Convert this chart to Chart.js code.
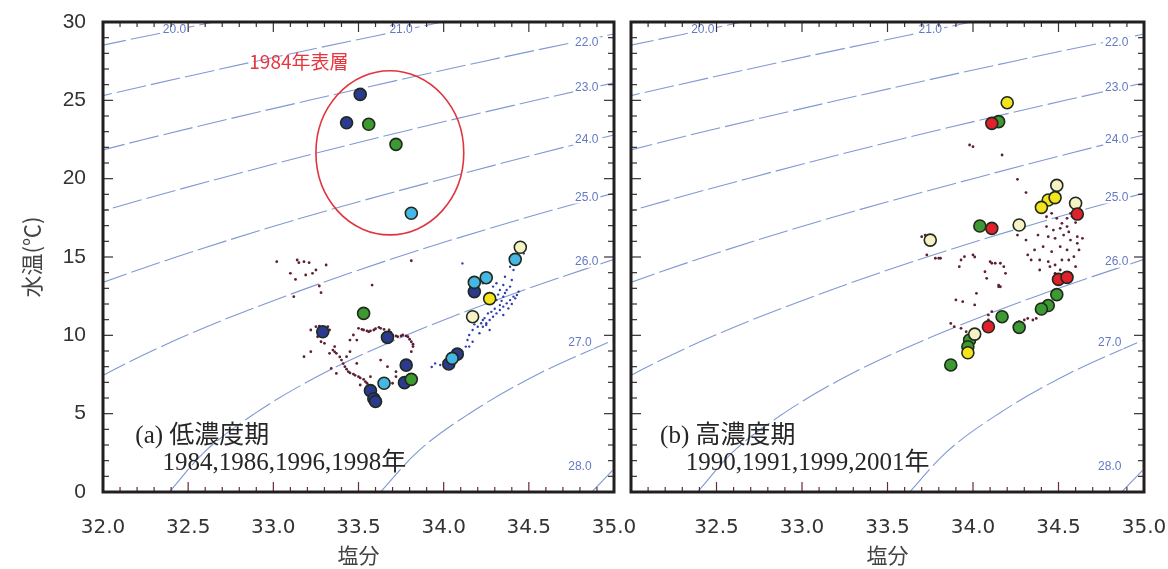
<!DOCTYPE html>
<html lang="ja">
<head>
<meta charset="utf-8">
<title>水温・塩分図</title>
<script src="https://cdn.jsdelivr.net/npm/chart.js@4.4.1/dist/chart.umd.min.js"></script>
<style>
  html, body { margin: 0; padding: 0; background: #fff; }
  body { width: 1168px; height: 569px; position: relative; overflow: hidden; }
  .panel { position: absolute; top: 0; height: 569px; }
  #panel-a { left: 0; width: 640px; }
  #panel-b { left: 620px; width: 548px; }
</style>
</head>
<body>
<div class="panel" id="panel-a"><canvas id="chart-a"></canvas></div>
<div class="panel" id="panel-b"><canvas id="chart-b"></canvas></div>
<script>
// sigma-t lines: salinity where each line crosses these temperatures
const contourTemps = [0, 2.5, 5, 7.5, 10, 12.5, 15, 17.5, 20, 22.5, 25, 27.5, 30];
const sigma20 = [null, null, null, null, null, null, null, null, null, null, 30.55, 31.56, 32.65];
const sigma21 = [null, null, null, null, null, null, null, null, null, 30.92, 31.88, 32.90, 33.99];
const sigma22 = [null, null, null, null, null, null, null, 30.55, 31.36, 32.24, 33.21, 34.24, 35.34];
const sigma23 = [null, null, null, null, null, 30.49, 31.13, 31.86, 32.68, 33.57, 34.54, 35.58, null];
const sigma24 = [null, null, null, 30.73, 31.21, 31.78, 32.43, 33.17, 34.00, 34.89, 35.88, null, null];
const sigma25 = [null, 31.34, 31.62, 32.01, 32.49, 33.07, 33.73, 34.48, 35.31, null, null, null, null];
const sigma26 = [32.39, 32.59, 32.89, 33.28, 33.78, 34.37, 35.04, null, null, null, null, null, null];
const sigma27 = [33.63, 33.84, 34.15, 34.55, 35.06, null, null, null, null, null, null, null, null];
const sigma28 = [34.87, 35.09, null, null, null, null, null, null, null, null, null, null, null];
const contourLevels = ['20.0', '21.0', '22.0', '23.0', '24.0', '25.0', '26.0', '27.0', '28.0'];
const contourSalinity = [sigma20, sigma21, sigma22, sigma23, sigma24, sigma25, sigma26, sigma27, sigma28];

// (a) low concentration years  [salinity, temperature]
const lowNavy = [[33.51, 25.38], [33.43, 23.57], [33.29, 10.23], [33.67, 9.87], [33.78, 8.10],
  [33.77, 6.98], [33.57, 6.47], [33.59, 5.95], [33.60, 5.78], [34.03, 8.17], [34.08, 8.80], [34.18, 12.79]];
const lowGreen = [[33.56, 23.47], [33.72, 22.19], [33.53, 11.40], [33.81, 7.19]];
const lowCyan = [[33.81, 17.79], [33.65, 6.94], [34.05, 8.53], [34.18, 13.38], [34.25, 13.68], [34.42, 14.85]];
const lowYellow = [[34.27, 12.34]];
const lowCream = [[34.17, 11.19], [34.45, 15.62]];
const lowDotsRed = [
  [33.02, 14.70], [33.14, 14.81], [33.15, 14.64], [33.18, 14.70], [33.21, 14.64], [33.10, 13.96], [33.13, 13.57],
  [33.19, 13.85], [33.23, 13.96], [33.25, 14.17], [33.27, 13.15], [33.28, 12.72], [33.31, 14.49], [33.12, 12.47],
  [33.58, 13.21], [33.81, 14.76], [33.25, 10.55], [33.27, 10.59], [33.32, 10.55], [33.33, 10.34], [33.26, 9.91],
  [33.28, 9.59], [33.22, 10.34], [33.30, 9.49], [33.18, 8.64], [33.50, 10.45], [33.52, 10.38], [33.53, 10.34],
  [33.55, 10.28], [33.56, 10.23], [33.57, 10.28], [33.59, 10.34], [33.60, 10.42], [33.62, 10.51], [33.63, 10.45],
  [33.65, 10.38], [33.68, 10.34], [33.69, 10.18], [33.70, 10.02], [33.72, 9.96], [33.73, 9.91], [33.75, 9.96],
  [33.76, 10.02], [33.78, 9.96], [33.79, 9.91], [33.80, 9.75], [33.81, 9.59], [33.82, 9.43], [33.82, 9.28],
  [33.81, 8.96], [33.47, 10.02], [33.45, 9.70], [33.49, 9.70], [33.35, 9.06], [33.36, 8.95], [33.37, 8.85],
  [33.39, 8.62], [33.40, 8.42], [33.41, 8.20], [33.42, 8.00], [33.43, 7.84], [33.44, 7.68], [33.45, 7.60],
  [33.47, 7.53], [33.48, 7.45], [33.50, 7.36], [33.51, 7.28], [33.53, 7.19], [33.54, 7.05], [33.55, 6.94],
  [33.56, 6.82], [33.57, 6.72], [33.59, 6.62], [33.51, 6.83], [33.33, 8.85], [33.36, 9.28], [33.43, 8.64],
  [33.37, 7.57], [33.34, 7.89], [33.49, 8.21], [33.63, 8.42], [33.67, 8.00], [33.72, 7.68], [33.72, 7.36],
  [33.70, 6.94], [33.57, 7.36], [33.22, 8.96], [33.45, 8.96]];
const lowDotsBlue = [
  [33.93, 7.98], [33.95, 8.21], [33.98, 8.11], [34.00, 8.32], [34.11, 8.96], [34.13, 9.28], [34.14, 9.70],
  [34.15, 10.02], [34.17, 10.34], [34.20, 10.55], [34.22, 10.77], [34.23, 10.98], [34.25, 10.66], [34.27, 10.98],
  [34.29, 11.19], [34.31, 11.40], [34.33, 11.62], [34.35, 11.83], [34.37, 12.04], [34.39, 12.25], [34.41, 12.47],
  [34.43, 12.57], [34.35, 12.47], [34.33, 12.89], [34.37, 12.89], [34.39, 13.11], [34.35, 13.21], [34.31, 13.32],
  [34.29, 13.11], [34.23, 13.32], [34.26, 13.53], [34.36, 13.74], [34.39, 14.38], [34.41, 14.17], [34.11, 14.59],
  [34.25, 10.77], [34.27, 10.34], [34.23, 10.55], [34.19, 10.98], [34.21, 10.13], [34.15, 9.28], [34.17, 9.59],
  [34.08, 8.42], [34.04, 8.00], [34.27, 12.04], [34.31, 12.25], [34.33, 11.93], [34.35, 11.30], [34.38, 11.72],
  [34.42, 12.36], [34.44, 12.79], [34.40, 13.53], [34.44, 14.59], [34.47, 15.23], [34.30, 11.70], [34.32, 12.60],
  [34.28, 11.50], [34.26, 11.40], [34.34, 12.20], [34.36, 12.70], [34.40, 12.00], [34.24, 11.10], [34.18, 10.70]];

// (b) high concentration years
const highGreen = [[34.15, 23.64], [34.04, 16.98], [34.49, 12.60], [34.44, 11.90], [34.40, 11.68], [34.17, 11.19],
  [34.27, 10.51], [33.98, 9.70], [33.97, 9.27], [33.87, 8.11]];
const highRed = [[34.11, 23.53], [34.61, 17.74], [34.11, 16.83], [34.50, 13.57], [34.55, 13.70], [34.09, 10.55]];
const highYellow = [[34.20, 24.85], [34.44, 18.64], [34.48, 18.79], [34.40, 18.17], [33.97, 8.89]];
const highCream = [[34.49, 19.57], [34.60, 18.43], [34.27, 17.04], [33.75, 16.08], [34.01, 10.08]];
const highDotsRed = [
  [33.98, 22.15], [34.00, 22.04], [34.17, 21.51], [34.26, 19.96], [34.31, 19.11], [34.41, 18.00], [34.43, 17.57],
  [34.46, 17.79], [34.49, 17.47], [34.52, 17.15], [34.55, 17.47], [34.57, 17.79], [34.51, 16.83], [34.47, 16.72],
  [34.43, 16.94], [34.44, 16.30], [34.48, 16.19], [34.53, 16.40], [34.57, 16.08], [34.61, 15.87], [34.62, 15.45],
  [34.59, 15.02], [34.55, 15.45], [34.51, 15.66], [34.46, 15.34], [34.41, 15.66], [34.36, 15.45], [34.32, 15.13],
  [34.34, 14.81], [34.39, 14.81], [34.44, 14.70], [34.48, 14.49], [34.52, 14.81], [34.56, 14.81], [34.60, 14.38],
  [34.51, 14.17], [34.48, 13.96], [34.45, 14.38], [34.39, 14.17], [34.57, 13.96], [34.61, 16.30], [34.64, 16.19],
  [34.55, 16.94], [34.38, 16.40], [34.31, 16.08], [34.26, 16.40], [34.58, 17.60], [34.60, 17.20], [34.56, 16.60],
  [33.73, 15.13], [33.78, 14.92], [33.81, 14.92], [33.93, 14.81], [33.95, 15.02], [34.00, 15.13], [34.01, 15.00],
  [34.10, 14.70], [34.13, 14.60], [34.16, 14.60], [34.18, 14.38], [34.19, 13.96], [34.16, 13.10], [34.15, 13.21],
  [34.07, 14.06], [34.08, 13.64], [33.92, 14.38], [34.02, 12.68], [33.94, 12.15], [33.90, 12.26], [34.01, 11.94],
  [34.09, 11.30], [34.11, 11.51], [33.87, 10.76], [33.89, 10.55], [33.93, 10.45], [33.96, 10.23], [34.30, 10.98],
  [34.32, 11.08], [34.35, 10.98], [34.37, 11.08], [34.27, 10.87], [34.09, 10.98], [33.95, 9.81], [33.80, 14.92],
  [34.11, 14.60], [34.15, 13.10], [33.72, 16.40], [33.70, 16.30]];

const isHalf = v => Math.abs(v * 2 - Math.round(v * 2)) < 1e-6;
const isFive = v => Math.abs(v / 5 - Math.round(v / 5)) < 1e-6;
const pts = list => list.map(p => ({x: p[0], y: p[1]}));

function contourData(salts) {
  const out = [];
  salts.forEach((s, i) => { if (s !== null) out.push({x: s, y: contourTemps[i]}); });
  return out;
}

function contourSets() {
  return contourSalinity.map(salts => ({
    data: contourData(salts),
    showLine: true,
    pointRadius: 0,
    borderColor: 'rgba(96,126,200,0.8)',
    borderWidth: 1.1,
    borderDash: [30, 5],
    cubicInterpolationMode: 'monotone',
    order: 30
  }));
}

function circles(list, fill, order) {
  return {data: pts(list), pointRadius: 6, pointBorderWidth: 1.6, borderColor: '#1f2a1c',
    backgroundColor: fill, order: order};
}

function dots(list, color, r) {
  return {data: pts(list), pointRadius: r, pointBorderWidth: 0, borderColor: color,
    backgroundColor: color, order: 20};
}

// frame, inward ticks, contour labels and panel texts
const panelDecor = {
  id: 'panelDecor',
  afterDatasetsDraw(chart, args, opts) {
    const {ctx, chartArea: a, scales: {x, y}} = chart;
    ctx.save();

    // contour labels
    ctx.font = '12px "Liberation Sans", Arial, sans-serif';
    ctx.textAlign = 'center';
    ctx.textBaseline = 'middle';
    opts.labelSpots.forEach((p, i) => {
      const px = x.getPixelForValue(p[0]);
      const py = y.getPixelForValue(p[1]);
      const w = ctx.measureText(contourLevels[i]).width;
      ctx.fillStyle = '#fff';
      ctx.fillRect(px - w / 2 - 2, py - 6, w + 4, 12);
      ctx.fillStyle = '#6479c4';
      ctx.fillText(contourLevels[i], px, py);
    });

    // ticks pointing inward
    ctx.lineWidth = 1.2;
    x.ticks.forEach(t => {
      const px = x.getPixelForValue(t.value);
      const len = isHalf(t.value) ? 10 : 5;
      ctx.strokeStyle = '#6b2a38';
      ctx.beginPath(); ctx.moveTo(px, a.bottom); ctx.lineTo(px, a.bottom - len); ctx.stroke();
      ctx.strokeStyle = '#333';
      ctx.beginPath(); ctx.moveTo(px, a.top); ctx.lineTo(px, a.top + len); ctx.stroke();
    });
    y.ticks.forEach(t => {
      const py = y.getPixelForValue(t.value);
      const len = isFive(t.value) ? 10 : 6;
      ctx.strokeStyle = '#333';
      ctx.beginPath(); ctx.moveTo(a.left, py); ctx.lineTo(a.left + len, py); ctx.stroke();
      ctx.beginPath(); ctx.moveTo(a.right, py); ctx.lineTo(a.right - len, py); ctx.stroke();
    });

    // frame
    ctx.lineWidth = 3;
    ctx.strokeStyle = '#231f20';
    ctx.strokeRect(a.left, a.top, a.right - a.left, a.bottom - a.top);

    // panel title
    ctx.textAlign = 'left';
    ctx.fillStyle = '#262626';
    ctx.font = '25px "Liberation Serif", "Noto Sans CJK JP", serif';
    opts.tag.forEach(line => {
      ctx.fillText(line.text, x.getPixelForValue(line.s), y.getPixelForValue(line.t));
    });

    // circled group (panel a only)
    if (opts.ring) {
      const r = opts.ring;
      const cx = x.getPixelForValue(r.s);
      const cy = y.getPixelForValue(r.t);
      ctx.lineWidth = 1.6;
      ctx.strokeStyle = '#e0353d';
      ctx.beginPath();
      ctx.ellipse(cx, cy, x.getPixelForValue(r.s + r.ds) - cx, cy - y.getPixelForValue(r.t + r.dt), 0, 0, Math.PI * 2);
      ctx.stroke();
      ctx.fillStyle = '#e8343c';
      ctx.textAlign = 'center';
      ctx.font = '19px "Noto Sans CJK JP", sans-serif';
      ctx.fillText(r.text, x.getPixelForValue(r.textS), y.getPixelForValue(r.textT));
    }
    ctx.restore();
  }
};

const labelSpots = [[32.42, 29.5], [33.75, 29.5], [34.84, 28.7], [34.84, 25.8], [34.84, 22.5],
  [34.84, 18.8], [34.84, 14.7], [34.80, 9.5], [34.80, 1.6]];

function makeOptions(left) {
  return {
    responsive: true,
    maintainAspectRatio: false,
    animation: false,
    events: [],
    layout: {padding: left ? {left: 0, right: 26, top: 22, bottom: 0} : {left: 0, right: 24, top: 22, bottom: 0}},
    scales: {
      x: {
        type: 'linear', min: 32, max: 35,
        grid: {display: false, drawTicks: false},
        border: {display: false},
        ticks: {
          stepSize: 0.1, autoSkip: false, maxRotation: 0, padding: 24, color: '#333',
          font: {size: 20, family: '"DejaVu Sans", sans-serif'},
          callback: v => (isHalf(v) && (left || v > 32.01)) ? v.toFixed(1) : ''
        },
        title: {display: true, text: '塩分', color: '#444', padding: {top: 0, bottom: 1},
          font: {size: 21, family: '"Noto Sans CJK JP", sans-serif'}},
        afterFit(s) { s.height = 77; s.paddingLeft = 0; s.paddingRight = 0; }
      },
      y: {
        type: 'linear', min: 0, max: 30,
        grid: {display: false, drawTicks: false},
        border: {display: false},
        ticks: {
          stepSize: 1, autoSkip: false, padding: 17, color: '#333',
          font: {size: 21, family: '"Liberation Sans", Arial, sans-serif'},
          callback: v => (left && isFive(v)) ? String(v) : ''
        },
        title: {display: left, text: '水温(℃)', color: '#444', padding: {top: 18, bottom: 0},
          font: {size: 22, family: '"Noto Sans CJK JP", sans-serif'}},
        afterFit(s) { s.width = left ? 103 : 11; s.paddingTop = 0; s.paddingBottom = 0; }
      }
    },
    plugins: {legend: {display: false}, tooltip: {enabled: false}}
  };
}

const optsA = makeOptions(true);
optsA.plugins.panelDecor = {
  labelSpots: labelSpots,
  tag: [{text: '(a) 低濃度期', s: 32.19, t: 3.57}, {text: '1984,1986,1996,1998年', s: 32.35, t: 1.85}],
  ring: {s: 33.684, t: 21.65, ds: 0.434, dt: 5.24, text: '1984年表層', textS: 33.15, textT: 27.45}
};

new Chart(document.getElementById('chart-a'), {
  type: 'scatter',
  data: {
    datasets: [
      circles(lowYellow, '#f4e41c', 1),
      circles(lowCream, '#f7f2c6', 2),
      circles(lowCyan, '#46b7e4', 3),
      circles(lowGreen, '#3d9a33', 4),
      circles(lowNavy, '#2b3a8e', 5),
      dots(lowDotsRed, '#5c1f33', 1.4),
      dots(lowDotsBlue, '#2e3fae', 1.2)
    ].concat(contourSets())
  },
  options: optsA,
  plugins: [panelDecor]
});

const optsB = makeOptions(false);
optsB.plugins.panelDecor = {
  labelSpots: labelSpots,
  tag: [{text: '(b) 高濃度期', s: 32.17, t: 3.57}, {text: '1990,1991,1999,2001年', s: 32.32, t: 1.85}],
  ring: null
};

new Chart(document.getElementById('chart-b'), {
  type: 'scatter',
  data: {
    datasets: [
      circles(highRed, '#e0202c', 1),
      circles(highYellow, '#f4e41c', 2),
      circles(highCream, '#f7f2c6', 3),
      circles(highGreen, '#3d9a33', 4),
      dots(highDotsRed, '#5c1f33', 1.4)
    ].concat(contourSets())
  },
  options: optsB,
  plugins: [panelDecor]
});
</script>
</body>
</html>
